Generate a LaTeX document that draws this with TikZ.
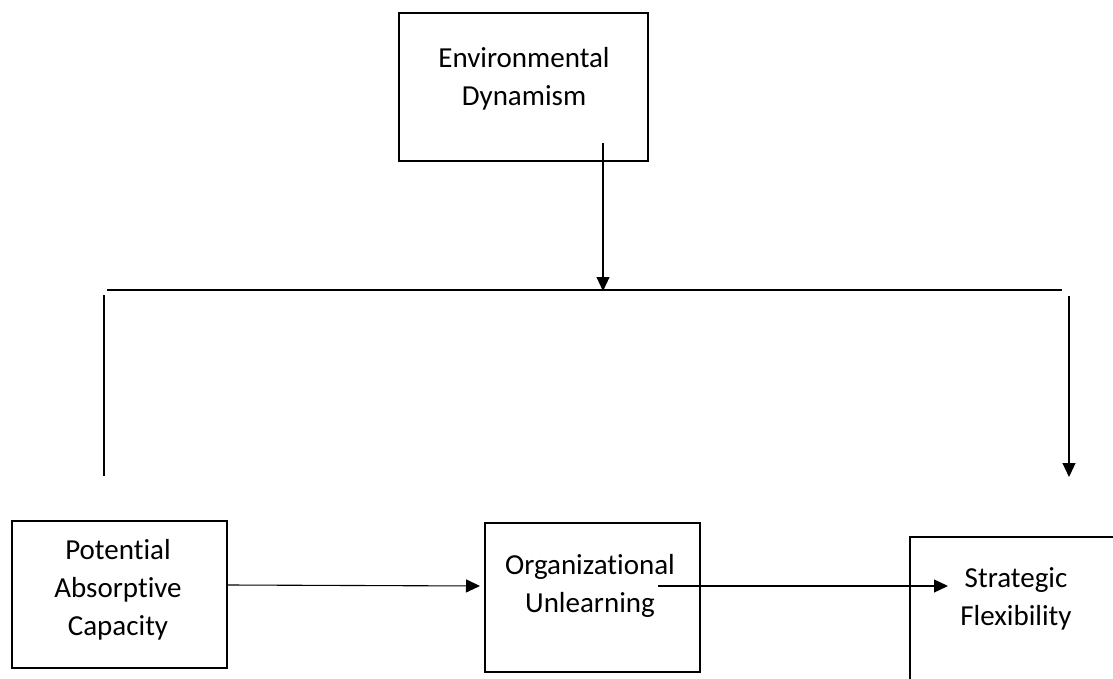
\documentclass[tikz,border=0pt]{standalone}
\usepackage{fontspec}
\setmainfont[Ligatures={NoCommon}]{Carlito}
\usetikzlibrary{arrows.meta}
\begin{document}
\begin{tikzpicture}[x=1pt,y=-1pt,
  box/.style={draw=black,line width=2pt,fill=none,inner sep=0pt},
  lbl/.style={align=center,font=\fontsize{29}{38}\selectfont,inner sep=0pt},
  conn/.style={draw=black,line width=1.1pt},
  arr/.style={conn,-{Triangle[length=14pt,width=13pt]}}]
\useasboundingbox (0,0) rectangle (1113,679);
\clip (0,0) rectangle (1113,679);
% boxes
\node[box,minimum width=249pt,minimum height=148pt] (env) at (523.5,87) {};
\node[box,minimum width=215pt,minimum height=147pt] (pac) at (119.5,594.5) {};
\node[box,minimum width=215pt,minimum height=149pt] (ou) at (592.5,597.5) {};
\node[box,minimum width=230pt,minimum height=180pt,anchor=north west] (sf) at (909,536) {};
% texts
\node[lbl] (envt) at (524,79) {Environmental\\Dynamism};
\node[lbl] (pact) at (118,590) {Potential\\Absorptive\\Capacity};
\node[lbl] (out) at (590,586) {Organizational\\Unlearning};
\node[lbl] (sft) at (1016,599) {Strategic\\Flexibility};
% connector points
\coordinate (envout) at (603,143);
\coordinate (bartop) at (603,291);
\coordinate (barl) at (107,290);
\coordinate (barr) at (1062,290);
\coordinate (ltop) at (104,295);
\coordinate (lbot) at (104,476);
\coordinate (rtop) at (1069,296);
\coordinate (rbot) at (1069,477);
\coordinate (pacout) at (228,585);
\coordinate (ouin) at (480,586);
\coordinate (ouout) at (658,586);
\coordinate (sfin) at (948,586);
% connectors
\draw[arr] (envout) -- (bartop);
\draw[conn] (barl) -- (barr);
\draw[conn] (ltop) -- (lbot);
\draw[arr] (rtop) -- (rbot);
\draw[arr] (pacout) -- (ouin);
\draw[arr] (ouout) -- (sfin);
\end{tikzpicture}
\end{document}
